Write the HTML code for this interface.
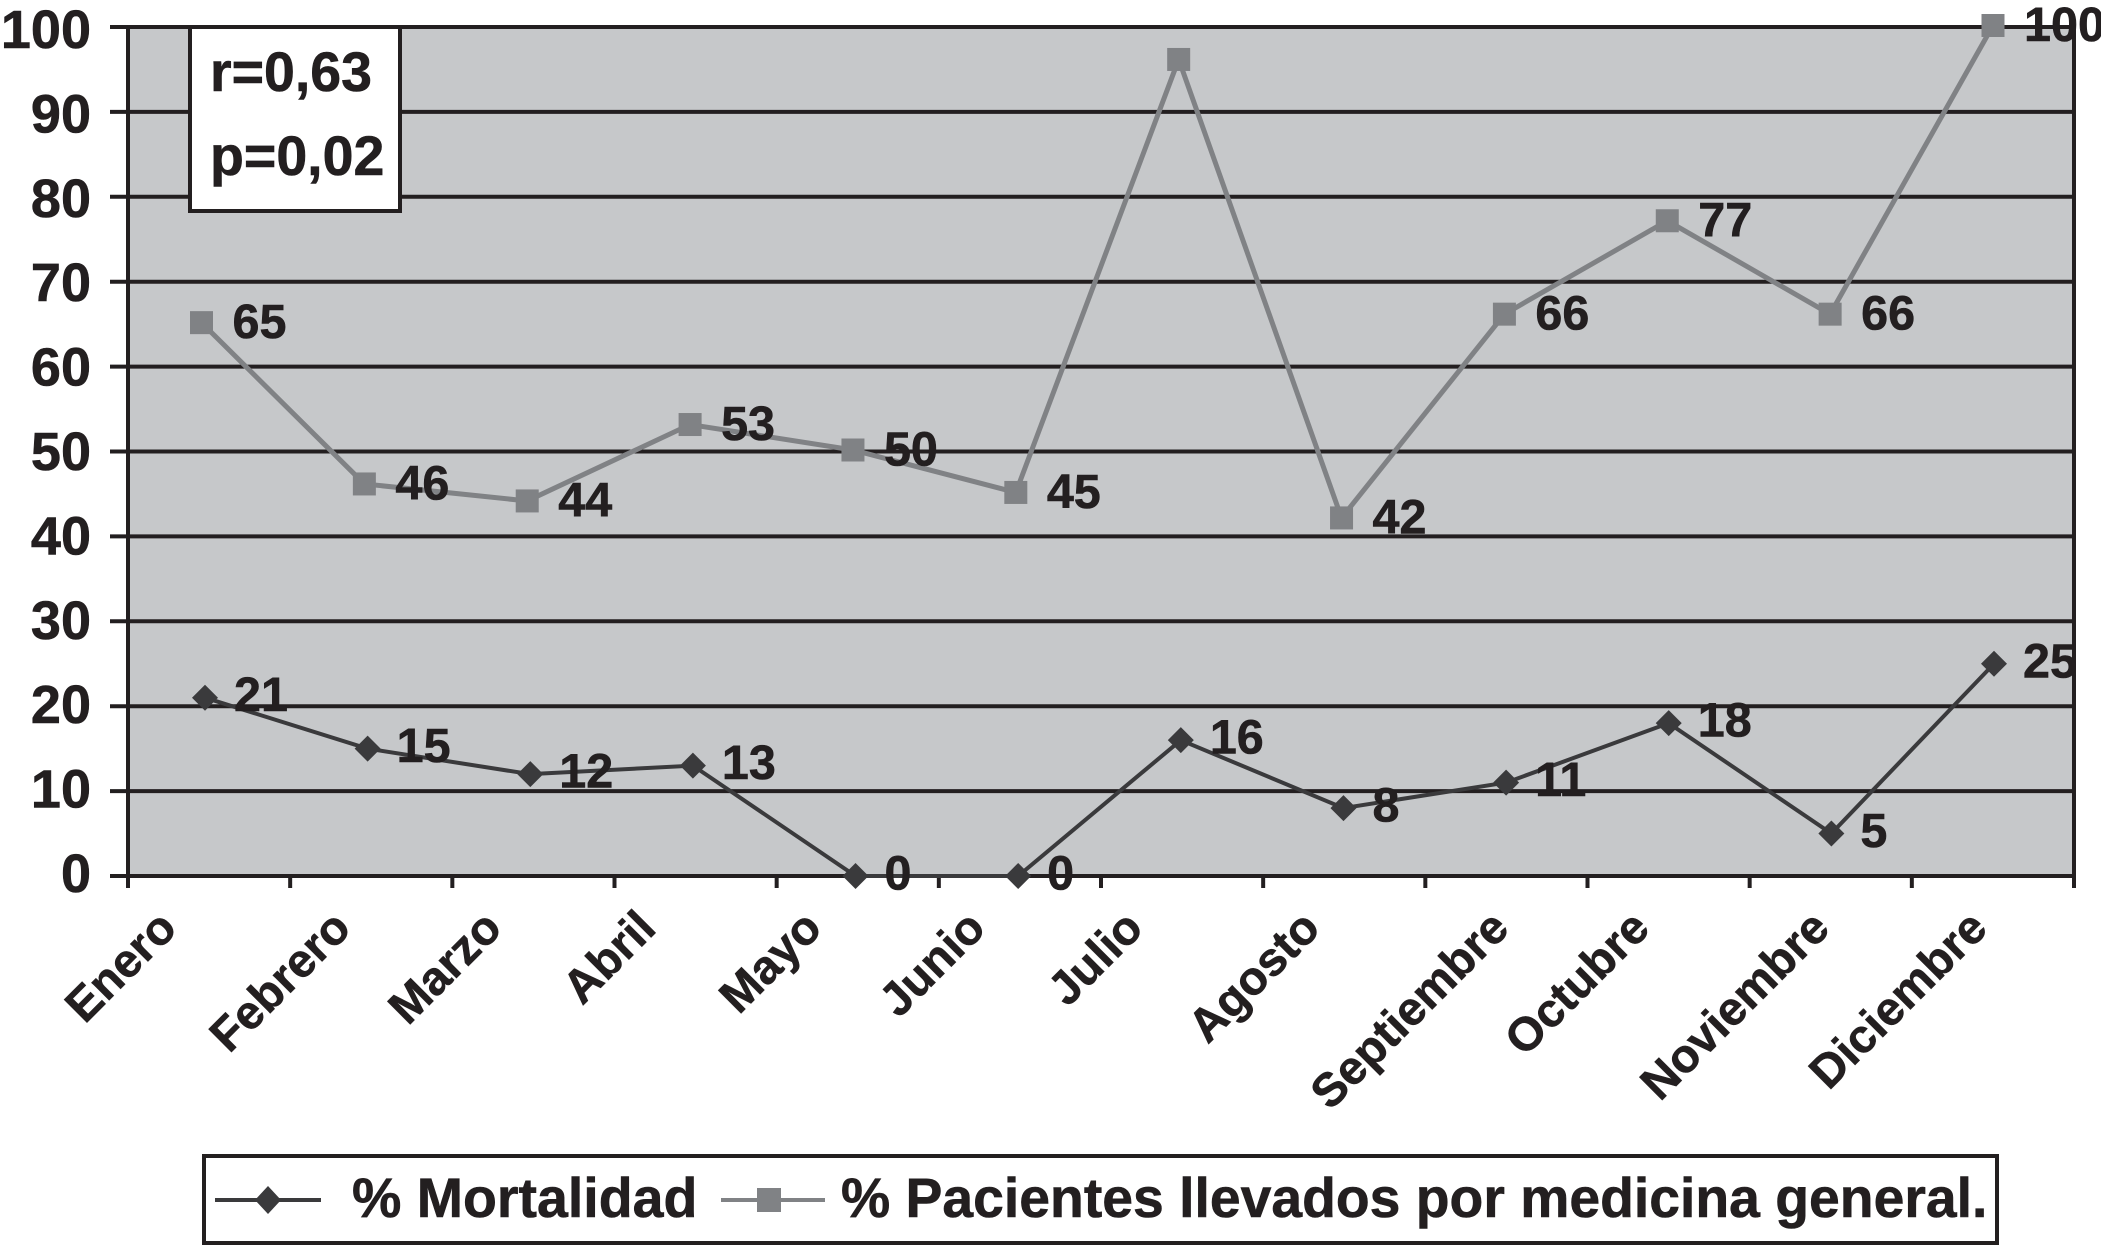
<!DOCTYPE html>
<html lang="es">
<head>
<meta charset="utf-8">
<title>Mortalidad y pacientes llevados por medicina general</title>
<style>
html,body{margin:0;padding:0;background:#fff;width:2101px;height:1245px;overflow:hidden}
svg{display:block}
text{font-family:"Liberation Sans",Arial,sans-serif;font-weight:700;fill:#231f20;stroke:#231f20;stroke-width:.6px}
</style>
</head>
<body>
<svg id="chart" xmlns="http://www.w3.org/2000/svg" width="2101" height="1245" viewBox="0 0 2101 1245">
  <rect x="128" y="27" width="1946" height="849" fill="#c6c8ca"/>
  <g id="grid"></g>
  <g id="axes"></g>
  <g id="ylabels"></g>
  <g id="xlabels"></g>
  <g id="series"></g>

  <g>
    <rect x="190" y="27" width="210" height="184" fill="#fff" stroke="#231f20" stroke-width="4"/>
    <text x="210" y="91" font-size="55.5">r=0,63</text>
    <text x="210" y="175" font-size="55.5">p=0,02</text>
  </g>

  <g>
    <rect x="204" y="1156" width="1793" height="87" fill="#fff" stroke="#231f20" stroke-width="4"/>
    <g>
      <line x1="215" y1="1200" x2="321" y2="1200" stroke="#3a3a3c" stroke-width="4"/>
      <polygon points="268,1186 281,1200 268,1214 255,1200" fill="#3a3a3c"/>
      <text x="352" y="1217" font-size="55.5">% Mortalidad</text>
    </g>
    <g>
      <line x1="721" y1="1200" x2="825" y2="1200" stroke="#808285" stroke-width="4"/>
      <rect x="757" y="1188" width="24" height="24" fill="#808285"/>
      <text x="841" y="1217" font-size="55.3">% Pacientes llevados por medicina general.</text>
    </g>
  </g>
</svg>

<script>
const categories = ["Enero","Febrero","Marzo","Abril","Mayo","Junio","Julio","Agosto","Septiembre","Octubre","Noviembre","Diciembre"];
const yTicks = [0,10,20,30,40,50,60,70,80,90,100];
const mortalidad = [21,15,12,13,0,0,16,8,11,18,5,25];
const pacientes = [65,46,44,53,50,45,96,42,66,77,66,100];
const pacientesLabels = ["65","46","44","53","50","45","","42","66","77","66","100"];
const mortalidadLabels = ["21","15","12","13","0","0","16","8","11","18","5","25"];

const NS = "http://www.w3.org/2000/svg";
const plot = {left:128,right:2074,top:27,bottom:876};

function yScale(v){ return plot.bottom - (v/100)*(plot.bottom-plot.top); }
function yLabelBaseline(v){ return 892 - v*8.44; }
function xTick(i){ return plot.left + i*(plot.right-plot.left)/categories.length; }
function xCenter(i){ return xTick(i+0.5); }
function xDiamond(i){ return 205 + i*(1994-205)/(categories.length-1); }
function xSquare(i){ return 201.5 + i*(1993-201.5)/(categories.length-1); }
function ySquare(v){ return yScale(v) - 1.5; }

function make(tag, attrs, parent, text){
  const el = document.createElementNS(NS, tag);
  for (const k in attrs) el.setAttribute(k, attrs[k]);
  if (text !== undefined) el.textContent = text;
  parent.appendChild(el);
  return el;
}

const gridG = document.getElementById('grid');
const axesG = document.getElementById('axes');
const yG = document.getElementById('ylabels');
const xG = document.getElementById('xlabels');
const seriesG = document.getElementById('series');

yTicks.forEach(function(t){
  const y = yScale(t);
  const gl = make('line',{x1:110,x2:plot.right+2,y1:y,y2:y,stroke:'#231f20','stroke-width':4},gridG);
  
  
  const lb = make('text',{x:91,y:yLabelBaseline(t),'text-anchor':'end','font-size':54},yG,String(t));
  
  
});

const leftAxis = make('line',{x1:plot.left,x2:plot.left,y1:plot.top-2,y2:888,stroke:'#231f20','stroke-width':4},axesG);


const rightAxis = make('line',{x1:plot.right,x2:plot.right,y1:plot.top-2,y2:888,stroke:'#231f20','stroke-width':4},axesG);



for (let i=1;i<categories.length;i++){
  const t = make('line',{x1:xTick(i),x2:xTick(i),y1:plot.bottom,y2:888,stroke:'#231f20','stroke-width':4},axesG);
  
  
}

categories.forEach(function(c,i){
  const lab = make('text',{'text-anchor':'end','font-size':47},xG,c);
  
  
  const len = lab.getComputedTextLength();
  const ex = xCenter(i) - 68 + 0.284*len;
  lab.setAttribute('transform','translate('+ex+',' + 930.5 + ') rotate(-45)');
});

function drawLine(values, xf, yf, color, width, name){
  const pts = values.map(function(v,i){ return xf(i)+','+yf(v); }).join(' ');
  const line = make('polyline',{points:pts,fill:'none',stroke:color,'stroke-width':width,'stroke-linejoin':'miter'},seriesG);
  
  
}

drawLine(mortalidad, xDiamond, yScale, '#3a3a3c', 4, 'mortalidad-line');
drawLine(pacientes, xSquare, ySquare, '#808285', 5, 'pacientes-line');

mortalidad.forEach(function(v,i){
  const x = xDiamond(i), y = yScale(v), r = 13;
  const m = make('polygon',{points:[x,y-r,x+r,y,x,y+r,x-r,y].join(' '),fill:'#3a3a3c'},seriesG);
  
  
  const t = make('text',{x:x+29,y:y+13.5,'font-size':48.5},seriesG,mortalidadLabels[i]);
  
  
});

pacientes.forEach(function(v,i){
  const x = xSquare(i), y = ySquare(v), s = 23;
  const m = make('rect',{x:x-s/2,y:y-s/2,width:s,height:s,fill:'#808285'},seriesG);
  
  
  if (pacientesLabels[i]){
    const t = make('text',{x:x+31,y:y+15.5,'font-size':48.5},seriesG,pacientesLabels[i]);
    
    
  }
});
</script>
</body>
</html>
